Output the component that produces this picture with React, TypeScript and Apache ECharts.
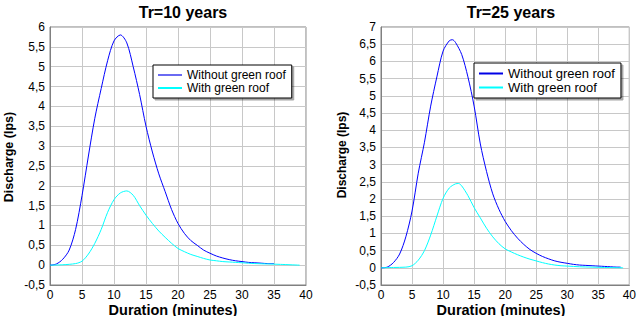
import React, { useEffect, useRef } from "react";
import * as echarts from "echarts";

const xTicks = [0, 5, 10, 15, 20, 25, 30, 35, 40];
const seriesNames = ["Without green roof", "With green roof"];
const titles = ["Tr=10 years", "Tr=25 years"];

// Tr=10 years
const t10Without: [number, number][] = [
  [0, 0], [1, 0.03], [2, 0.15], [3, 0.38], [4, 0.9], [5, 1.75], [6, 2.75], [7, 3.7], [8, 4.45],
  [9, 5.15], [10, 5.65], [11, 5.8], [12, 5.6], [13, 5.0], [14, 4.3], [15, 3.5], [16, 2.85],
  [17, 2.3], [18, 1.85], [19, 1.4], [20, 1.05], [21, 0.8], [22, 0.62], [23, 0.5], [24, 0.38],
  [25, 0.3], [26, 0.23], [27, 0.18], [28, 0.14], [29, 0.11], [30, 0.09], [31, 0.07], [32, 0.06],
  [33, 0.05], [34, 0.04], [35, 0.04],
];
const t10With: [number, number][] = [
  [0, 0], [2, 0.01], [4, 0.04], [5, 0.1], [6, 0.28], [7, 0.55], [8, 0.9], [9, 1.33], [10, 1.65],
  [11, 1.82], [12, 1.87], [13, 1.76], [14, 1.5], [15, 1.26], [16, 1.05], [17, 0.86], [18, 0.7],
  [19, 0.55], [20, 0.42], [21, 0.34], [22, 0.27], [23, 0.22], [24, 0.17], [25, 0.13], [26, 0.11],
  [27, 0.09], [28, 0.08], [29, 0.07], [30, 0.06], [32, 0.04], [34, 0.03], [36, 0.02], [39, 0],
];

// Tr=25 years
const t25Without: [number, number][] = [
  [0, 0], [1, 0.02], [2, 0.15], [3, 0.4], [4, 0.9], [5, 1.65], [6, 2.75], [7, 3.65], [8, 4.7],
  [9, 5.55], [10, 6.3], [11, 6.6], [11.5, 6.63], [12, 6.55], [13, 6.2], [14, 5.55], [15, 4.7],
  [16, 3.6], [17, 2.8], [18, 2.15], [19, 1.7], [20, 1.35], [21, 1.08], [22, 0.86], [23, 0.68],
  [24, 0.53], [25, 0.42], [26, 0.33], [27, 0.26], [28, 0.2], [29, 0.16], [30, 0.13], [31, 0.1],
  [32, 0.08], [33, 0.07], [34, 0.06], [35, 0.05], [36, 0.04], [37, 0.03], [38, 0.02], [38.6, 0.02],
];
const t25With: [number, number][] = [
  [0, 0], [2, 0.01], [4, 0.02], [5, 0.06], [6, 0.22], [7, 0.5], [8, 0.95], [9, 1.5], [10, 2.02],
  [11, 2.32], [12, 2.44], [12.5, 2.45], [13, 2.38], [14, 2.1], [15, 1.75], [16, 1.45], [17, 1.15],
  [18, 0.9], [19, 0.7], [20, 0.55], [21, 0.46], [22, 0.38], [23, 0.31], [24, 0.25], [25, 0.2],
  [26, 0.15], [27, 0.11], [28, 0.08], [29, 0.06], [30, 0.05], [32, 0.03], [34, 0.02], [36, 0.01], [39, 0],
];

const FONT = "'Liberation Sans', Arial, sans-serif";
const BLUE = "#0000ff";
const CYAN = "#00ffff";

export default function App() {
  const ref = useRef<HTMLDivElement>(null);
  useEffect(() => {
    document.body.style.margin = "0";
    if (!ref.current) return;
    const chart = echarts.init(ref.current, undefined, { renderer: "svg" });
    const fmt = (v: number) => String(v).replace(".", ",");
    const xAxisBase = (gi: number) => ({
      type: "value",
      gridIndex: gi,
      min: xTicks[0],
      max: xTicks[xTicks.length - 1],
      interval: xTicks[1] - xTicks[0],
      axisLine: { onZero: false, lineStyle: { color: "#808080" } },
      axisTick: { show: false },
      axisLabel: { color: "#000", fontFamily: FONT, fontSize: 12, margin: 4, lineHeight: 12 },
      splitLine: { lineStyle: { color: "#c8c8c8", width: 1 } },
    });
    const yAxisBase = (gi: number, max: number) => ({
      type: "value",
      gridIndex: gi,
      min: -0.5,
      max,
      interval: 0.5,
      axisLine: { show: true, lineStyle: { color: "#808080" } },
      axisTick: { show: false },
      axisLabel: { color: "#000", fontFamily: FONT, fontSize: 12, margin: 5, formatter: fmt },
      splitLine: { lineStyle: { color: "#c8c8c8", width: 1 } },
    });
    const lineSeries = (name: string, data: [number, number][], gi: number, color: string) => ({
      type: "line",
      name,
      xAxisIndex: gi,
      yAxisIndex: gi,
      data,
      smooth: 0.3,
      showSymbol: false,
      symbol: "none",
      lineStyle: { color, width: 1 },
      itemStyle: { color },
    });
    const legendBase = (left: number, top: number, fs: number, c0: string) => ({
      orient: "vertical",
      left,
      top,
      itemWidth: 24,
      itemHeight: 2,
      itemGap: 1,
      icon: "rect",
      padding: [4, 6, 4, 5],
      backgroundColor: "#fff",
      borderColor: "#000",
      borderWidth: 1,
      shadowColor: "rgba(0,0,0,0.35)",
      shadowOffsetX: 2,
      shadowOffsetY: 2,
      shadowBlur: 0,
      selectedMode: false,
      textStyle: { color: "#000", fontFamily: FONT, fontSize: fs, padding: [0, 0, 0, 0] },
      data: [
        { name: seriesNames[0], itemStyle: { color: c0 } },
        { name: seriesNames[1], itemStyle: { color: CYAN } },
      ],
    });
    chart.setOption({
      animation: false,
      backgroundColor: "#fff",
      title: [
        { text: titles[0], left: 178, top: -1, textAlign: "center", textStyle: { fontFamily: FONT, fontSize: 16, fontWeight: "bold", color: "#000" } },
        { text: titles[1], left: 506, top: -1, textAlign: "center", textStyle: { fontFamily: FONT, fontSize: 16, fontWeight: "bold", color: "#000" } },
      ],
      grid: [
        { left: 50, top: 27, width: 256, height: 258, show: true, borderColor: "#808080", borderWidth: 1, containLabel: false },
        { left: 381, top: 27, width: 249, height: 258, show: true, borderColor: "#808080", borderWidth: 1, containLabel: false },
      ],
      xAxis: [xAxisBase(0), xAxisBase(1)],
      yAxis: [yAxisBase(0, 6), yAxisBase(1, 7)],
      legend: [legendBase(153, 65, 12, "#6a6af2"), legendBase(474, 63, 13, "#0000e6")],
      series: [
        lineSeries(seriesNames[0], t10Without, 0, BLUE),
        lineSeries(seriesNames[1], t10With, 0, CYAN),
        lineSeries(seriesNames[0], t25Without, 1, BLUE),
        lineSeries(seriesNames[1], t25With, 1, CYAN),
      ],
      graphic: [
        { type: "text", x: 173, y: 309.5, style: { text: "Duration (minutes)", fontFamily: FONT, fontSize: 14.5, fontWeight: "bold", fill: "#000", textAlign: "center", textVerticalAlign: "middle" } },
        { type: "text", x: 501, y: 309.5, style: { text: "Duration (minutes)", fontFamily: FONT, fontSize: 14.5, fontWeight: "bold", fill: "#000", textAlign: "center", textVerticalAlign: "middle" } },
        { type: "text", x: 9, y: 157, rotation: Math.PI / 2, style: { text: "Discharge (lps)", fontFamily: FONT, fontSize: 12.5, fontWeight: "bold", fill: "#000", textAlign: "center", textVerticalAlign: "middle" } },
        { type: "text", x: 342, y: 155, rotation: Math.PI / 2, style: { text: "Discharge (lps)", fontFamily: FONT, fontSize: 12, fontWeight: "bold", fill: "#000", textAlign: "center", textVerticalAlign: "middle" } },
      ],
    });
    return () => chart.dispose();
  }, []);
  return <div ref={ref} style={{ width: 639, height: 316 }} />;
}
